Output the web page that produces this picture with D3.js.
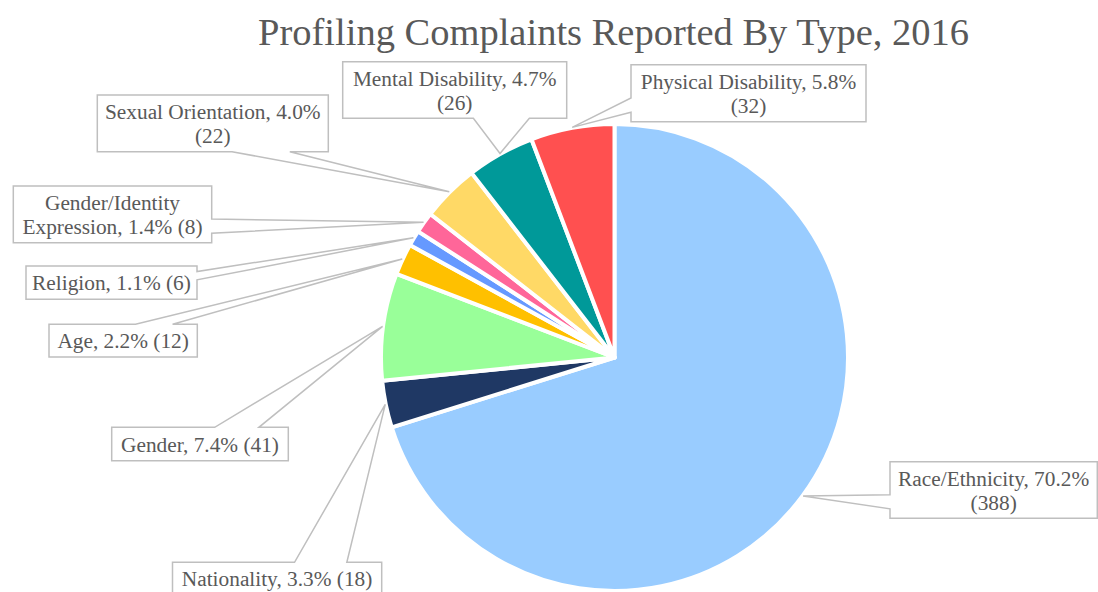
<!DOCTYPE html>
<html>
<head>
<meta charset="utf-8">
<script src="https://cdn.jsdelivr.net/npm/d3@7"></script>
<style>
  html, body { margin: 0; padding: 0; background: #ffffff; }
  svg { display: block; }
  text { font-family: "Liberation Serif", "Times New Roman", serif; fill: #595959; }
</style>
</head>
<body>
<svg id="chart" width="1098" height="592"></svg>
<script>
// ---- Data ----
const title = "Profiling Complaints Reported By Type, 2016";
const categories = ["Race/Ethnicity", "Nationality", "Gender", "Age", "Religion",
  "Gender/Identity Expression", "Sexual Orientation", "Mental Disability", "Physical Disability"];
const values = [388, 18, 41, 12, 6, 8, 22, 26, 32];
const colors = ["#99CCFF", "#1F3864", "#99FF99", "#FFC000", "#6699FF",
  "#FF6699", "#FFD966", "#009999", "#FF5050"];

// ---- Layout (label boxes: x, y, w, h) ----
const labelBoxes = [
  [890, 461.7, 207.3, 56.6],
  [172.5, 562.3, 209.2, 33.3],
  [111.7, 427.3, 176.6, 33.4],
  [49, 324.3, 148.3, 32.8],
  [26, 266, 171, 33.3],
  [13.3, 186, 198.4, 56.7],
  [97.3, 95, 231, 56.7],
  [342.7, 61.7, 224, 56.6],
  [631, 64.7, 235, 57]
];

const W = 1098, H = 592;
const cx = 614.5, cy = 357.5, R = 233.5, tipR = 234;
const fontSize = 21.33, lineH = 24;

const svg = d3.select("#chart");

svg.append("text")
  .attr("x", 613.5).attr("y", 44.5)
  .attr("text-anchor", "middle")
  .style("font-size", "38.5px")
  .text(title);

const total = d3.sum(values);
const pie = d3.pie().sort(null).value(d => d)(values);
const arc = d3.arc().innerRadius(0).outerRadius(R);

const g = svg.append("g").attr("transform", `translate(${cx},${cy})`);
g.selectAll("path.slice").data(pie).join("path")
  .attr("class", "slice")
  .attr("d", arc)
  .attr("fill", (d, i) => colors[i])
  .attr("stroke", "#ffffff")
  .attr("stroke-width", 4)
  .attr("stroke-linejoin", "round");

const pct = d3.format(".1%");

function calloutPath(x, y, w, h, tx, ty) {
  const hc = x + w / 2, vc = y + h / 2;
  const dxPos = tx - hc, dyPos = ty - vc;
  const dq = dxPos * h / w;
  const xg1 = dxPos > 0 ? 7 : 2, xg2 = dxPos > 0 ? 10 : 5;
  const yg1 = dyPos > 0 ? 7 : 2, yg2 = dyPos > 0 ? 10 : 5;
  const x1 = x + w * xg1 / 12, x2 = x + w * xg2 / 12;
  const y1 = y + h * yg1 / 12, y2 = y + h * yg2 / 12;
  const p = d3.path();
  if (Math.abs(dyPos) > Math.abs(dq)) {
    if (dyPos < 0) {
      p.moveTo(x, y); p.lineTo(x1, y); p.lineTo(tx, ty); p.lineTo(x2, y);
      p.lineTo(x + w, y); p.lineTo(x + w, y + h); p.lineTo(x, y + h); p.closePath();
    } else {
      p.moveTo(x, y); p.lineTo(x + w, y); p.lineTo(x + w, y + h); p.lineTo(x2, y + h);
      p.lineTo(tx, ty); p.lineTo(x1, y + h); p.lineTo(x, y + h); p.closePath();
    }
  } else {
    if (dxPos < 0) {
      p.moveTo(x, y); p.lineTo(x + w, y); p.lineTo(x + w, y + h); p.lineTo(x, y + h);
      p.lineTo(x, y2); p.lineTo(tx, ty); p.lineTo(x, y1); p.closePath();
    } else {
      p.moveTo(x, y); p.lineTo(x + w, y); p.lineTo(x + w, y1); p.lineTo(tx, ty);
      p.lineTo(x + w, y2); p.lineTo(x + w, y + h); p.lineTo(x, y + h); p.closePath();
    }
  }
  return p.toString();
}

const labels = svg.append("g");
pie.forEach((d, i) => {
  const [x, y, w, h] = labelBoxes[i];
  const mid = (d.startAngle + d.endAngle) / 2;
  const tx = cx + tipR * Math.sin(mid), ty = cy - tipR * Math.cos(mid);
  labels.append("path")
    .attr("d", calloutPath(x, y, w, h, tx, ty))
    .attr("fill", "#ffffff")
    .attr("stroke", "#BFBFBF")
    .attr("stroke-width", 1.5)
    .attr("stroke-linejoin", "miter");

  const full = `${categories[i]}, ${pct(values[i] / total)} (${values[i]})`;
  const t = labels.append("text")
    .attr("text-anchor", "middle")
    .style("font-size", fontSize + "px");
  const words = full.split(" ");
  const maxW = w - 4;
  const lines = [];
  let cur = [];
  const probe = t.append("tspan");
  words.forEach(wd => {
    const test = cur.concat([wd]).join(" ");
    probe.text(test);
    if (probe.node().getComputedTextLength() > maxW && cur.length) {
      lines.push(cur.join(" "));
      cur = [wd];
    } else {
      cur.push(wd);
    }
  });
  lines.push(cur.join(" "));
  probe.remove();
  const n = lines.length;
  lines.forEach((ln, k) => {
    t.append("tspan")
      .attr("x", x + w / 2)
      .attr("y", y + h / 2 + 7.5 + (k - (n - 1) / 2) * lineH)
      .text(ln);
  });
});
</script>
</body>
</html>
